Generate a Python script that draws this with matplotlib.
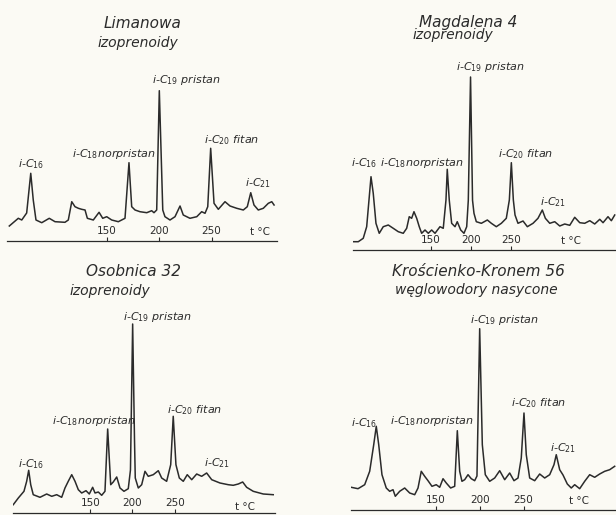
import matplotlib.pyplot as plt

plt.rcParams["font.family"] = ["DejaVu Sans"]
plt.rcParams["mathtext.fontset"] = "dejavusans"
plt.rcParams["mathtext.default"] = "it"

INK = "#2b2b2b"
PAPER = "#fbfaf4"
FIG_W, FIG_H = 616, 515

# --- chromatograms: temperature (deg C) vs detector signal ---
lim_temp = [56.6, 65.2, 68.5, 73.2, 77.1, 79.5, 82.1, 87.6, 94.8, 100.3,
            109.8, 113.0, 116.3, 119.4, 122.6, 125.8, 129.0, 131.2, 136.9, 142.4,
            145.9, 149.7, 154.5, 160.8, 167.2, 171.0, 173.6, 176.8, 181.5, 188.0,
            192.7, 194.9, 197.5, 200.0, 203.3, 205.4, 210.2, 215.0, 219.8, 222.9,
            229.3, 235.8, 240.5, 243.7, 246.3, 249.1, 252.3, 256.4, 262.8, 267.6,
            274.0, 280.3, 284.1, 287.4, 290.5, 294.6, 299.4, 304.2, 307.5, 309.7]
lim_signal = [15, 22.7, 21, 28, 67.7, 41, 21, 18.3, 22.7, 19.3,
              18.7, 21, 39.3, 34.3, 32.7, 31.7, 31, 22.7, 21, 28.7,
              22.7, 24.3, 21, 19.3, 22.7, 78.3, 34.3, 31, 29.3, 28.3,
              30.3, 28.3, 31, 150.3, 31, 24.3, 21, 24.3, 35, 26,
              22.7, 24.3, 29.3, 27.7, 34.3, 92.7, 37.7, 31.7, 39.3, 35,
              32.7, 31, 34.3, 48.3, 36, 31, 32.7, 37.7, 39.3, 36]

mag_temp = [52.5, 59.5, 65.7, 70.0, 75.4, 78.2, 81.6, 85.7, 90.7, 97.0,
            103.2, 109.5, 115.7, 120.0, 123.2, 126.2, 129.1, 132.5, 135.7, 138.7,
            142.9, 147.0, 151.2, 155.4, 161.6, 165.7, 169.1, 170.7, 173.2, 176.2,
            180.4, 183.2, 187.5, 191.6, 195.0, 197.0, 199.8, 202.3, 204.1, 207.0,
            213.3, 220.8, 225.8, 232.0, 238.3, 244.5, 248.3, 250.8, 253.3, 255.4,
            259.1, 265.4, 270.8, 277.9, 284.1, 289.5, 293.3, 298.8, 305.0, 311.3,
            317.5, 323.8, 330.0, 336.3, 342.5, 348.8, 355.0, 361.3, 365.4, 371.6,
            375.8, 380.0]
mag_signal = [6.6, 6.6, 10, 21.6, 71.6, 55, 25, 15, 21.6, 23.3,
              20, 16.6, 15, 20, 31.6, 30, 36.6, 30, 21.6, 15,
              18.3, 15, 18.3, 15, 21.6, 20, 48.3, 79, 48.3, 25,
              21.6, 26.6, 18.3, 15, 21.6, 48, 171.3, 48, 35, 26.6,
              25, 28.3, 25, 21.6, 25, 30, 48.3, 85.6, 48.3, 33.3,
              25, 27.3, 21.6, 25, 30, 38.3, 30, 25, 26.6, 22.3,
              24.3, 23, 31, 25.6, 25, 27.6, 24.3, 29, 25.6, 31.6,
              27.6, 33.3]

oso_temp = [58.7, 64.7, 71.4, 74.6, 77.0, 79.4, 82.4, 90.4, 98.3, 104.3,
            110.2, 116.1, 120.0, 123.9, 128.0, 131.9, 135.8, 139.8, 144.9, 148.8,
            152.8, 155.6, 159.5, 163.5, 167.4, 170.6, 174.2, 177.2, 181.3, 185.2,
            189.9, 195.0, 197.6, 200.2, 202.4, 203.3, 206.9, 210.9, 214.8, 218.7,
            224.6, 230.6, 234.6, 240.5, 245.3, 248.3, 251.5, 255.5, 260.2, 264.9,
            270.2, 276.1, 282.0, 287.9, 293.9, 303.7, 313.5, 319.4, 325.4, 330.6,
            335.3, 343.1, 355.0, 366.8]
oso_signal = [8.3, 15, 21.7, 31.7, 42.7, 28.3, 18.3, 15.7, 19, 16.7,
              18.3, 15.7, 25, 31.7, 38.3, 31.7, 23.3, 20, 22.3, 19,
              25.7, 20, 21, 17.7, 21.7, 84, 28.3, 31, 36, 25,
              21.7, 24.3, 43, 189, 73, 35, 25, 28.3, 41.7, 36.7,
              38.3, 42.3, 35, 31.7, 48.3, 96.7, 48.3, 35, 31.7, 38.3,
              33.3, 39, 36.7, 40, 33.3, 30, 28.3, 27.7, 29, 31,
              25.7, 21.7, 19, 18.3]

kro_temp = [53.6, 61.3, 68.9, 74.6, 79.2, 82.1, 84.9, 88.6, 93.5, 97.4,
            101.2, 103.8, 108.8, 114.5, 120.2, 125.9, 129.7, 133.4, 137.3, 141.1,
            145.6, 150.5, 154.4, 158.2, 161.9, 166.9, 171.5, 174.5, 177.2, 179.8,
            182.9, 186.7, 190.4, 194.3, 196.9, 200.0, 203.0, 206.4, 211.4, 217.1,
            222.8, 228.5, 234.2, 239.1, 243.7, 247.4, 250.5, 253.1, 257.0, 262.7,
            268.4, 274.1, 279.8, 284.7, 287.3, 291.2, 295.0, 299.9, 304.4, 308.3,
            314.0, 319.7, 325.4, 331.1, 336.8, 342.5, 348.2, 353.9]
kro_signal = [10.7, 9.3, 13.3, 26.7, 53.3, 71.7, 53.3, 23.3, 10, 6.7,
              8.3, 1.7, 6.7, 10, 5, 3.3, 10, 26.7, 21.7, 17.3,
              11.7, 13.3, 10.7, 19.3, 15, 10, 11.7, 67.3, 26.7, 16.7,
              18.3, 23.3, 19.3, 17.3, 22, 169.3, 53.3, 23.3, 16.7, 20,
              27.3, 18.3, 25, 17.3, 20, 40, 85, 43.3, 20, 17.3,
              24, 20, 23.3, 33.3, 43.3, 28.3, 23, 14, 10, 13.3,
              9.3, 16.7, 23.3, 20.7, 24, 26.7, 28.3, 31.7]

tick_temps = [150, 200, 250]
peak_names = [r"i-C$_{\mathit{16}}$", r"i-C$_{\mathit{18}}$norpristan",
              r"i-C$_{\mathit{19}}$ pristan", r"i-C$_{\mathit{20}}$ fitan",
              r"i-C$_{\mathit{21}}$"]

# peak label anchors (temperature, signal) for each panel, same order as peak_names
lim_label_pos = [(64.9, 77), (116.5, 87), (193.0, 161), (242.7, 101), (281.9, 58)]
mag_label_pos = [(50.4, 85), (86.6, 85), (181.6, 181), (234.1, 94), (286.6, 46)]
oso_label_pos = [(64.3, 49), (104.6, 92), (188.7, 196), (240.9, 103), (284.7, 50)]
kro_label_pos = [(53.3, 75), (97.7, 77), (188.9, 178), (235.7, 95), (280.1, 50)]

panels = [
    dict(title="Limanowa", subtitle="izoprenoidy",
         temp=lim_temp, signal=lim_signal, labels=lim_label_pos,
         box=(7, 277, 241, 5), xlim=(54.4, 312.5), ylow=0,
         title_at=(184.4, 218), sub_at=(179.6, 198), tc_at=(296.3, 9)),
    dict(title="Magdalena 4", subtitle="izoprenoidy",
         temp=mag_temp, signal=mag_signal, labels=mag_label_pos,
         box=(353, 616, 249.5, 5), xlim=(52.9, 381.6), ylow=-1.2,
         title_at=(196.6, 226), sub_at=(177.9, 213), tc_at=(325.4, 7)),
    dict(title="Osobnica 32", subtitle="izoprenoidy",
         temp=oso_temp, signal=oso_signal, labels=oso_label_pos,
         box=(13, 275, 513, 262), xlim=(58.4, 368.9), ylow=0,
         title_at=(201.0, 241), sub_at=(173.3, 222), tc_at=(333.3, 6.5)),
    dict(title="Krościenko-Kronem 56", subtitle="węglowodory nasycone",
         temp=kro_temp, signal=kro_signal, labels=kro_label_pos,
         box=(351, 616, 509.5, 262), xlim=(53.3, 355.4), ylow=-11.5,
         title_at=(198.1, 226), sub_at=(196.1, 208), tc_at=(312.9, -3)),
]

fig = plt.figure(figsize=(FIG_W / 100, FIG_H / 100), dpi=100, facecolor=PAPER)

for p in panels:
    left, right, axis_y, top_y = p["box"]
    ax = fig.add_axes([left / FIG_W, (FIG_H - axis_y) / FIG_H,
                       (right - left) / FIG_W, (axis_y - top_y) / FIG_H])
    ax.set_facecolor("none")
    ax.set_xlim(*p["xlim"])
    ax.set_ylim(p["ylow"], p["ylow"] + (axis_y - top_y))

    ax.plot(p["temp"], p["signal"], color=INK, lw=1.1, solid_joinstyle="round")

    for side in ["left", "right", "top"]:
        ax.spines[side].set_visible(False)
    ax.spines["bottom"].set_color(INK)
    ax.spines["bottom"].set_linewidth(0.9)
    ax.set_yticks([])
    ax.set_xticks(tick_temps)
    ax.tick_params(axis="x", direction="in", length=3, width=0.8, colors=INK,
                   labelsize=7.5, pad=-10.5)

    ax.text(*p["tc_at"], "t °C", fontsize=7.5, color=INK, ha="center", va="center")
    ax.text(*p["title_at"], p["title"], fontsize=11, style="italic", color=INK,
            ha="center", va="center", clip_on=False)
    ax.text(*p["sub_at"], p["subtitle"], fontsize=10, style="italic", color=INK,
            ha="center", va="center", clip_on=False)

    for name, (t, s) in zip(peak_names, p["labels"]):
        ax.text(t, s, name, fontsize=8, style="italic", color=INK,
                ha="left", va="center", clip_on=False)

fig.savefig("out.png", dpi=100, facecolor=PAPER)
